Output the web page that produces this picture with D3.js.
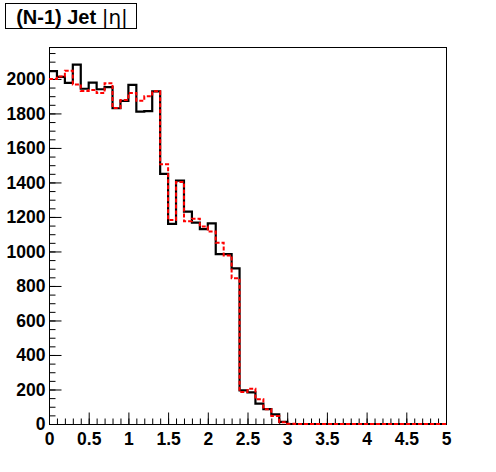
<!DOCTYPE html>
<html>
<head>
<meta charset="utf-8">
<script src="https://cdn.jsdelivr.net/npm/d3@7"></script>
<style>
  body { margin: 0; background: #fff; }
  text { font-family: "Liberation Sans", Arial, sans-serif; font-weight: bold; }
</style>
</head>
<body>
<svg width="496" height="472"></svg>
<script>
// histogram binning
var xMin = 0, xMax = 5, nBins = 50;

// bin contents (black solid / red dashed)
var blackCounts = [2045, 2012, 1977, 2083, 1943, 1978, 1940, 1953, 1830, 1873,
                   1966, 1810, 1813, 1928, 1450, 1160, 1410, 1231, 1167, 1129,
                   1163, 984, 984, 902, 195, 183, 118, 86, 56, 12,
                   0, 0, 0, 0, 0, 0, 0, 0, 0, 0,
                   0, 0, 0, 0, 0, 0, 0, 0, 0, 0];
var redCounts = [2000, 2014, 2048, 1968, 1930, 1936, 1918, 1975, 1832, 1878,
                 1918, 1874, 1900, 1928, 1505, 1183, 1403, 1175, 1190, 1145,
                 1115, 1051, 977, 845, 186, 204, 144, 86, 46, 10,
                 2, 0, 0, 0, 0, 0, 0, 0, 0, 0,
                 0, 0, 0, 0, 0, 0, 0, 0, 0, 0];

var yMaxVal = 2185;
var xTickValues = [0, 0.5, 1, 1.5, 2, 2.5, 3, 3.5, 4, 4.5, 5];
var yTickValues = [0, 200, 400, 600, 800, 1000, 1200, 1400, 1600, 1800, 2000];
var titleText = "(N-1) Jet ";

var frame = { left: 49, right: 446, top: 47, bottom: 424 };

var svg = d3.select("svg");

var x = d3.scaleLinear().domain([xMin, xMax]).range([frame.left, frame.right]);
var y = d3.scaleLinear().domain([0, yMaxVal]).range([frame.bottom, frame.top]);

// frame
svg.append("rect")
    .attr("x", frame.left + 0.5).attr("y", frame.top + 0.5)
    .attr("width", frame.right - frame.left).attr("height", frame.bottom - frame.top)
    .attr("fill", "none").attr("stroke", "#000").attr("stroke-width", 1);

// minor ticks
var binW = (xMax - xMin) / nBins;
svg.append("g")
    .attr("transform", "translate(0," + (frame.bottom + 0.5) + ")")
    .call(d3.axisBottom(x).tickValues(d3.range(nBins + 1).map(function (i) { return xMin + i * binW; }))
        .tickSize(-6).tickSizeOuter(0).tickFormat(""))
    .call(function (g) { g.select(".domain").remove(); });
svg.append("g")
    .attr("transform", "translate(" + (frame.left + 0.5) + ",0)")
    .call(d3.axisLeft(y).tickValues(d3.range(0, yMaxVal, 50))
        .tickSize(-6).tickSizeOuter(0).tickFormat(""))
    .call(function (g) { g.select(".domain").remove(); });

// major ticks + labels
var xAxis = svg.append("g")
    .attr("transform", "translate(0," + (frame.bottom + 0.5) + ")")
    .call(d3.axisBottom(x).tickValues(xTickValues).tickSize(-12).tickSizeOuter(0)
        .tickPadding(4).tickFormat(d3.format("")));
xAxis.select(".domain").remove();
xAxis.selectAll("text").attr("font-size", 17.5).attr("dy", "0.95em").attr("fill", "#000")
    .style("font-family", "Liberation Sans, Arial, sans-serif").style("font-weight", "bold");

var yAxis = svg.append("g")
    .attr("transform", "translate(" + (frame.left + 0.5) + ",0)")
    .call(d3.axisLeft(y).tickValues(yTickValues).tickSize(-12).tickSizeOuter(0)
        .tickPadding(4).tickFormat(d3.format("")));
yAxis.select(".domain").remove();
yAxis.selectAll("text").attr("font-size", 17.5).attr("fill", "#000")
    .style("font-family", "Liberation Sans, Arial, sans-serif").style("font-weight", "bold");

// step outlines (no vertical edges at the frame sides)
function stepPoints(counts) {
    var pts = [];
    counts.forEach(function (c, i) { pts.push([xMin + i * binW, c]); });
    pts.push([xMax, counts[counts.length - 1]]);
    return pts;
}
var stepLine = d3.line()
    .x(function (d) { return x(d[0]); })
    .y(function (d) { return y(d[1]); })
    .curve(d3.curveStepAfter);

svg.append("path")
    .attr("d", stepLine(stepPoints(blackCounts)))
    .attr("fill", "none").attr("stroke", "#000").attr("stroke-width", 2.2);

svg.append("path")
    .attr("d", stepLine(stepPoints(redCounts)))
    .attr("fill", "none").attr("stroke", "#ff0000").attr("stroke-width", 2)
    .attr("stroke-dasharray", "4,2");

// title box
svg.append("rect")
    .attr("x", 5.5).attr("y", 3.5).attr("width", 131).attr("height", 25)
    .attr("fill", "#fff").attr("stroke", "#000").attr("stroke-width", 1);
var title = svg.append("text")
    .attr("x", 72).attr("y", 24).attr("text-anchor", "middle")
    .attr("font-size", 20);
title.append("tspan").text(titleText);
title.append("tspan").style("font-weight", "normal").style("font-family", "DejaVu Sans, sans-serif")
    .text("|η|");
</script>
</body>
</html>
